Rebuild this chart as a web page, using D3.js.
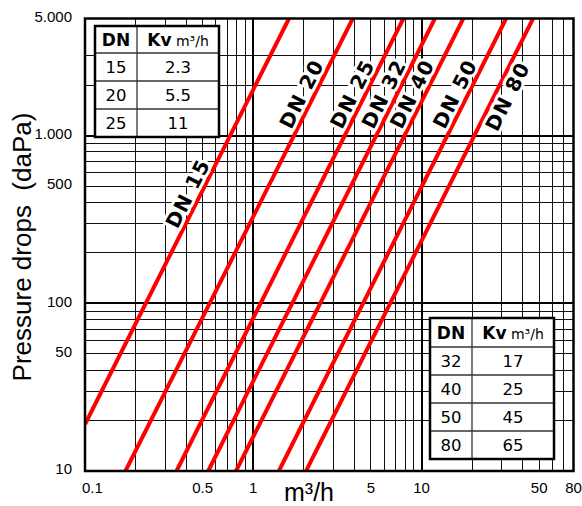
<!DOCTYPE html>
<html lang="en">
<head>
    <meta charset="UTF-8">
    <script src="https://cdnjs.cloudflare.com/ajax/libs/d3/7.8.5/d3.min.js"></script>
    <style>
        html, body {
            margin: 0;
            padding: 0;
            background: #fff;
        }

        svg {
            display: block;
        }
    </style>
</head>
<body>

<svg id="chart" width="582" height="506"></svg>

<script>
    // curves: pressure drop vs flow, one straight line per valve size (log-log)
    var dnNames = ["DN 15", "DN 20", "DN 25", "DN 32", "DN 40", "DN 50", "DN 80"];
    var flowLow = [0.1, 0.174, 0.35, 0.54, 0.79, 1.42, 2.06];     // m3/h at lower end
    var dropLow = [19, 10, 10, 10, 10, 10, 10];                    // daPa at lower end
    var flowHigh = [1.63, 3.9, 7.8, 12, 17.7, 31.8, 46];           // m3/h at upper end
    var dropHigh = [5000, 5000, 5000, 5000, 5000, 5000, 5000];     // daPa at upper end

    // Kv tables
    var tableLeftDn = ["15", "20", "25"];
    var tableLeftKv = ["2.3", "5.5", "11"];
    var tableRightDn = ["32", "40", "50", "80"];
    var tableRightKv = ["17", "25", "45", "65"];

    // axes
    var xTicks = [0.1, 0.5, 1, 5, 10, 50, 80];
    var yTicks = [10, 50, 100, 500, 1000, 5000];
    var xGrid = [0.2, 0.3, 0.4, 0.5, 0.6, 0.7, 0.8, 0.9, 2, 3, 4, 5, 6, 7, 8, 9, 20, 30, 40, 50, 60, 70];
    var xMajor = [1, 10];
    var yGrid = [20, 30, 40, 50, 60, 70, 80, 90, 200, 300, 400, 500, 600, 700, 800, 900, 2000, 3000];
    var yMajor = [100, 1000];

    (function () {
        var svg = d3.select("#chart");

        var x = d3.scaleLog().domain([0.1, 80]).range([85, 573.5]);
        var y = d3.scaleLog().domain([10, 5000]).range([471, 18.5]);

        var pLeft = x.range()[0], pRight = x.range()[1];
        var pTop = y.range()[1], pBottom = y.range()[0];

        svg.append("clipPath").attr("id", "plotClip")
            .append("rect")
            .attr("x", pLeft).attr("y", pTop)
            .attr("width", pRight - pLeft).attr("height", pBottom - pTop);

        // grid
        var grid = svg.append("g").attr("shape-rendering", "crispEdges");

        grid.selectAll("line.vx")
            .data(xGrid)
            .enter().append("line")
            .attr("x1", function (d) { return x(d); })
            .attr("x2", function (d) { return x(d); })
            .attr("y1", pTop).attr("y2", pBottom)
            .attr("stroke", "#111").attr("stroke-width", 1);

        grid.selectAll("line.hy")
            .data(yGrid)
            .enter().append("line")
            .attr("y1", function (d) { return y(d); })
            .attr("y2", function (d) { return y(d); })
            .attr("x1", pLeft).attr("x2", pRight)
            .attr("stroke", "#111").attr("stroke-width", 1);

        grid.selectAll("line.vmaj")
            .data(xMajor)
            .enter().append("line")
            .attr("x1", function (d) { return x(d); })
            .attr("x2", function (d) { return x(d); })
            .attr("y1", pTop).attr("y2", pBottom)
            .attr("stroke", "#000").attr("stroke-width", 2);

        grid.selectAll("line.hmaj")
            .data(yMajor)
            .enter().append("line")
            .attr("y1", function (d) { return y(d); })
            .attr("y2", function (d) { return y(d); })
            .attr("x1", pLeft).attr("x2", pRight)
            .attr("stroke", "#000").attr("stroke-width", 2);

        // red curves
        var curves = dnNames.map(function (name, i) {
            return {
                name: name,
                pts: [[flowLow[i], dropLow[i]], [flowHigh[i], dropHigh[i]]]
            };
        });

        var line = d3.line()
            .x(function (d) { return x(d[0]); })
            .y(function (d) { return y(d[1]); });

        svg.append("g")
            .attr("clip-path", "url(#plotClip)")
            .selectAll("path")
            .data(curves)
            .enter().append("path")
            .attr("d", function (d) { return line(d.pts); })
            .attr("fill", "none")
            .attr("stroke", "#ff0000")
            .attr("stroke-width", 4);

        // frame
        svg.append("rect")
            .attr("x", pLeft).attr("y", pTop)
            .attr("width", pRight - pLeft).attr("height", pBottom - pTop)
            .attr("fill", "none")
            .attr("stroke", "#000")
            .attr("stroke-width", 2.5);

        // curve labels: pressure where the label sits, and which side of the line
        var labelDrop = [420, 1650, 1650, 1650, 1650, 1650, 1850];
        var labelSide = [-1, -1, -1, -1, -1, -1, 1];

        function pointAt(c, drop) {
            var a = c.pts[0], b = c.pts[1];
            var t = (Math.log(drop) - Math.log(a[1])) / (Math.log(b[1]) - Math.log(a[1]));
            var q = Math.exp(Math.log(a[0]) + t * (Math.log(b[0]) - Math.log(a[0])));
            return [x(q), y(drop)];
        }

        var labels = svg.append("g");
        curves.forEach(function (c, i) {
            var p0 = [x(c.pts[0][0]), y(c.pts[0][1])];
            var p1 = [x(c.pts[1][0]), y(c.pts[1][1])];
            var dx = p1[0] - p0[0], dy = p1[1] - p0[1];
            var len = Math.sqrt(dx * dx + dy * dy);
            var ang = Math.atan2(dy, dx) * 180 / Math.PI;
            // normal pointing up-left
            var nx = dy / len, ny = -dx / len;
            var p = pointAt(c, labelDrop[i]);
            var off = 12 * -labelSide[i];
            var cx = p[0] + nx * off, cy = p[1] + ny * off;
            labels.append("text")
                .attr("transform", "translate(" + cx + "," + cy + ") rotate(" + ang + ")")
                .attr("text-anchor", "middle")
                .attr("dy", "0.36em")
                .attr("font-family", "DejaVu Sans, Verdana, sans-serif")
                .attr("font-weight", "bold")
                .attr("font-size", 20)
                .attr("letter-spacing", 1.2)
                .attr("fill", "#000")
                .attr("stroke", "#fff")
                .attr("stroke-width", 6)
                .attr("stroke-linejoin", "round")
                .attr("paint-order", "stroke")
                .text(c.name);
        });

        // tick labels
        var yLocale = d3.formatLocale({decimal: ",", thousands: ".", grouping: [3], currency: ["", ""]});
        var yFmt = yLocale.format(",");

        svg.append("g")
            .selectAll("text")
            .data(yTicks)
            .enter().append("text")
            .attr("x", 72)
            .attr("y", function (d) { return y(d) - 2; })
            .attr("dy", "0.35em")
            .attr("text-anchor", "end")
            .attr("font-family", "Liberation Sans, Arial, sans-serif")
            .attr("font-size", 15)
            .text(function (d) { return yFmt(d); });

        svg.append("g")
            .selectAll("text")
            .data(xTicks)
            .enter().append("text")
            .attr("x", function (d) { return d === 0.1 ? x(d) - 3 : x(d); })
            .attr("y", 493)
            .attr("text-anchor", function (d) { return d === 0.1 ? "start" : "middle"; })
            .attr("font-family", "Liberation Sans, Arial, sans-serif")
            .attr("font-size", 15)
            .text(function (d) { return d3.format("")(d); });

        // axis titles
        svg.append("text")
            .attr("transform", "translate(31,247) rotate(-90)")
            .attr("text-anchor", "middle")
            .attr("font-family", "Liberation Sans, Arial, sans-serif")
            .attr("font-size", 26)
            .attr("xml:space", "preserve")
            .text("Pressure drops  (daPa)");

        svg.append("text")
            .attr("x", 309)
            .attr("y", 501)
            .attr("text-anchor", "middle")
            .attr("font-family", "Liberation Sans, Arial, sans-serif")
            .attr("font-size", 25)
            .text("m³/h");

        // Kv tables
        function drawTable(x0, y0, headH, rowH, dnVals, kvVals) {
            var w1 = 42, w2 = 82;
            var h = headH + rowH * dnVals.length;
            var g = svg.append("g");
            g.append("rect")
                .attr("x", x0).attr("y", y0)
                .attr("width", w1 + w2).attr("height", h)
                .attr("fill", "#fff");
            for (var i = 0; i < dnVals.length; i++) {
                g.append("line")
                    .attr("x1", x0).attr("x2", x0 + w1 + w2)
                    .attr("y1", y0 + headH + rowH * i).attr("y2", y0 + headH + rowH * i)
                    .attr("stroke", "#333").attr("stroke-width", 1.3);
            }
            g.append("line")
                .attr("x1", x0 + w1).attr("x2", x0 + w1)
                .attr("y1", y0).attr("y2", y0 + h)
                .attr("stroke", "#333").attr("stroke-width", 1.3);
            g.append("rect")
                .attr("x", x0).attr("y", y0)
                .attr("width", w1 + w2).attr("height", h)
                .attr("fill", "none")
                .attr("stroke", "#000").attr("stroke-width", 2.5);

            var font = "DejaVu Sans, Verdana, sans-serif";
            g.append("text")
                .attr("x", x0 + w1 / 2).attr("y", y0 + headH / 2)
                .attr("dy", "0.36em")
                .attr("text-anchor", "middle")
                .attr("font-family", font).attr("font-weight", "bold").attr("font-size", 17)
                .text("DN");
            var kv = g.append("text")
                .attr("x", x0 + w1 + w2 / 2).attr("y", y0 + headH / 2)
                .attr("dy", "0.36em")
                .attr("text-anchor", "middle")
                .attr("font-family", font).attr("font-size", 17);
            kv.append("tspan").attr("font-weight", "bold").text("Kv");
            kv.append("tspan").attr("font-size", 14).text(" m³/h");

            for (var j = 0; j < dnVals.length; j++) {
                var cy = y0 + headH + rowH * j + rowH / 2;
                g.append("text")
                    .attr("x", x0 + w1 / 2).attr("y", cy)
                    .attr("dy", "0.36em")
                    .attr("text-anchor", "middle")
                    .attr("font-family", font).attr("font-size", 16.5)
                    .text(dnVals[j]);
                g.append("text")
                    .attr("x", x0 + w1 + w2 / 2).attr("y", cy)
                    .attr("dy", "0.36em")
                    .attr("text-anchor", "middle")
                    .attr("font-family", font).attr("font-size", 16.5)
                    .text(kvVals[j]);
            }
        }

        drawTable(95, 26, 27, 28, tableLeftDn, tableLeftKv);
        drawTable(430, 318, 29, 28, tableRightDn, tableRightKv);
    })();
</script>
</body>
</html>
